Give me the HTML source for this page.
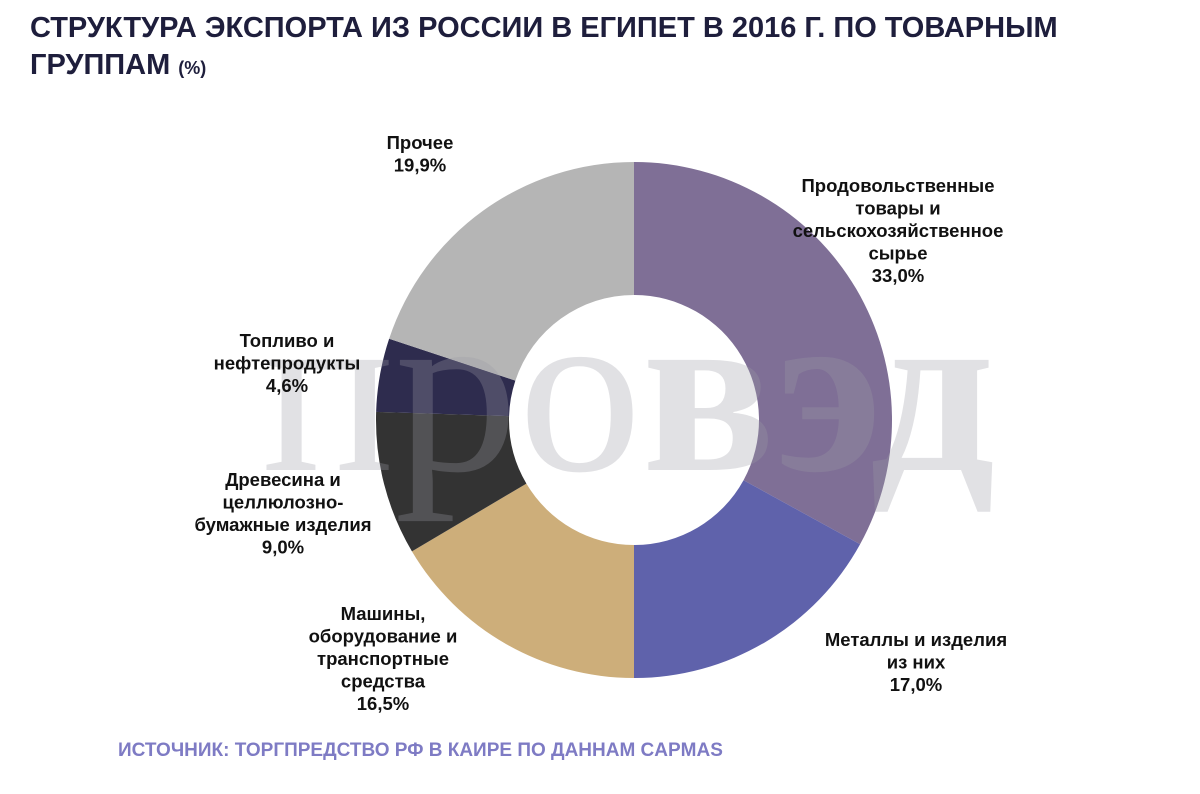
<!DOCTYPE html>
<html><head><meta charset="utf-8"><style>
body{margin:0;background:#fff;font-family:"Liberation Sans",sans-serif}
.t{position:absolute;left:30px;top:10px;font-size:29px;font-weight:bold;color:#1e1e3c;line-height:37px}
.src{position:absolute;left:118px;top:740px;font-size:19px;font-weight:bold;color:#7e7bc4}
</style></head><body>
<div style="position:relative;width:1200px;height:794px;overflow:hidden">
<div class="t">СТРУКТУРА ЭКСПОРТА ИЗ РОССИИ В ЕГИПЕТ В 2016 Г. ПО ТОВАРНЫМ<br>ГРУППАМ <span style="font-size:18px">(%)</span></div>
<svg id="s" width="1200" height="794" style="position:absolute;left:0;top:0"></svg>
<div class="src">ИСТОЧНИК: ТОРГПРЕДСТВО РФ В КАИРЕ ПО ДАННАМ CAPMAS</div>
</div>
<script>
const categories=["Продовольственные|товары и|сельскохозяйственное|сырье","Металлы и изделия|из них","Машины,|оборудование и|транспортные|средства","Древесина и|целлюлозно-|бумажные изделия","Топливо и|нефтепродукты","Прочее"];
const values=[33.0,17.0,16.5,9.0,4.6,19.9];
const labels=["33,0%","17,0%","16,5%","9,0%","4,6%","19,9%"];
const colors=["#7f6f96","#5f62ab","#cdae7a","#333333","#2e2c4e","#b5b5b5"];
const labelPos=[[898,186],[916,640],[383,614],[283,480],[287,341],[420,143]];
const ns="http://www.w3.org/2000/svg",s=document.getElementById('s');
const cx=634,cy=420,R=258,r=125;
const total=values.reduce((a,b)=>a+b,0);
let a0=0;
function pt(a,rad){return [cx+rad*Math.sin(a),cy-rad*Math.cos(a)];}
values.forEach((v,i)=>{
 const a1=a0+v/total*2*Math.PI,l=(a1-a0)>Math.PI?1:0;
 const [x0,y0]=pt(a0,R),[x1,y1]=pt(a1,R),[x2,y2]=pt(a1,r),[x3,y3]=pt(a0,r);
 const p=document.createElementNS(ns,'path');
 p.setAttribute('d',`M${x0},${y0}A${R},${R} 0 ${l} 1 ${x1},${y1}L${x2},${y2}A${r},${r} 0 ${l} 0 ${x3},${y3}Z`);
 p.setAttribute('fill',colors[i]);
 
 
 s.appendChild(p);a0=a1;
});
const w=document.createElementNS(ns,'text');
w.setAttribute('x',262);w.setAttribute('y',470);w.setAttribute('textLength',733);w.setAttribute('lengthAdjust','spacingAndGlyphs');
w.setAttribute('font-family','Liberation Serif, serif');w.setAttribute('font-size','240');
w.setAttribute('fill','#9a9aa6');w.setAttribute('fill-opacity','0.3');
w.innerHTML='про<tspan font-weight="bold">вэд</tspan>';


s.appendChild(w);
categories.forEach((c,i)=>{
 const lines=c.split('|').concat([labels[i]]);
 const t=document.createElementNS(ns,'text');
 t.setAttribute('text-anchor','middle');t.setAttribute('font-size','18.5');t.setAttribute('font-weight','bold');t.setAttribute('fill','#111');
 t.setAttribute('font-family','Liberation Sans, sans-serif');
 
 
 lines.forEach((ln,j)=>{const ts=document.createElementNS(ns,'tspan');ts.setAttribute('x',labelPos[i][0]);ts.setAttribute('y',labelPos[i][1]+6+j*22.5);ts.textContent=ln;t.appendChild(ts);});
 s.appendChild(t);
});
</script>
</body></html>
